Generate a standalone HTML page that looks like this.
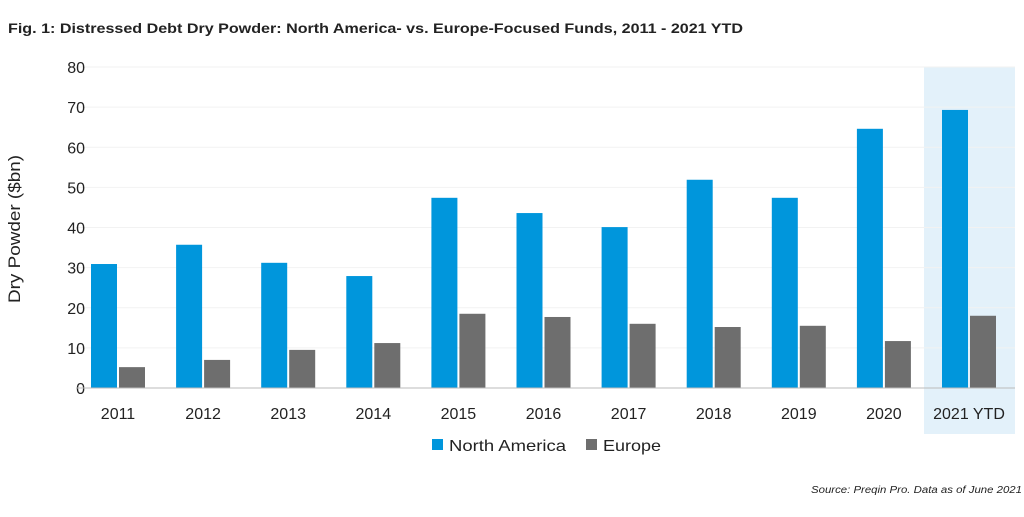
<!DOCTYPE html>
<html><head><meta charset="utf-8"><style>
body{margin:0;background:#fff;width:1024px;height:512px;overflow:hidden;font-family:"Liberation Sans",sans-serif}
</style></head><body>
<svg id="c" width="1024" height="512" xmlns="http://www.w3.org/2000/svg">
<text x="8" y="33" font-size="14" font-weight="bold" fill="#222" textLength="735" lengthAdjust="spacingAndGlyphs">Fig. 1: Distressed Debt Dry Powder: North America- vs. Europe-Focused Funds, 2011 - 2021 YTD</text>
<rect x="924" y="67" width="91" height="367" fill="#e3f1fa"/>
<text transform="translate(20,229) rotate(-90)" text-anchor="middle" font-size="17" fill="#222" textLength="148" lengthAdjust="spacingAndGlyphs">Dry Powder ($bn)</text>
<g id="grid"></g><g id="bars"></g><g id="labels"></g>
<line x1="76" y1="388" x2="1015" y2="388" stroke="#bbb" stroke-width="1"/>
<rect x="432" y="439" width="11" height="11" fill="#0096dc"/>
<text x="449" y="451" font-size="16" fill="#222" textLength="117" lengthAdjust="spacingAndGlyphs">North America</text>
<rect x="586" y="439" width="11" height="11" fill="#6e6e6e"/>
<text x="603" y="451" font-size="16" fill="#222" textLength="58" lengthAdjust="spacingAndGlyphs">Europe</text>
<text x="811" y="493" font-size="10" font-style="italic" fill="#222" textLength="211" lengthAdjust="spacingAndGlyphs">Source: Preqin Pro. Data as of June 2021</text>
</svg>
<script>
const categories=["2011","2012","2013","2014","2015","2016","2017","2018","2019","2020","2021 YTD"];
const northAmerica=[30.9,35.7,31.2,27.9,47.4,43.6,40.1,51.9,47.4,64.6,69.3];
const europe=[5.2,7.0,9.5,11.2,18.5,17.7,16.0,15.2,15.5,11.7,18.0];
const yTicks=[0,10,20,30,40,50,60,70,80];
const NS="http://www.w3.org/2000/svg";
const y=v=>388-v*(321/80);
const xc=i=>118+i*85.1;
function mk(t,a,p){const e=document.createElementNS(NS,t);for(const k in a)e.setAttribute(k,a[k]);document.getElementById(p).appendChild(e);return e;}
yTicks.forEach(v=>{
 if(v>0){const g=mk('line',{x1:76,x2:1015,y1:y(v),y2:y(v),stroke:'#f2f2f2'},'grid');
 
 }
 const t=mk('text',{x:85,y:y(v)+6,'text-anchor':'end','font-size':16,fill:'#222'},'labels');t.textContent=v;
 
 
});
categories.forEach((c,i)=>{
 const b=mk('rect',{x:xc(i)-27,y:y(northAmerica[i]),width:26,height:388-y(northAmerica[i]),fill:'#0096dc'},'bars');
 
 
 const e=mk('rect',{x:xc(i)+1,y:y(europe[i]),width:26,height:388-y(europe[i]),fill:'#6e6e6e'},'bars');
 
 
 const t=mk('text',{x:xc(i),y:419,'text-anchor':'middle','font-size':16,fill:'#222'},'labels');t.textContent=c;
 
 
});
</script>
</body></html>
